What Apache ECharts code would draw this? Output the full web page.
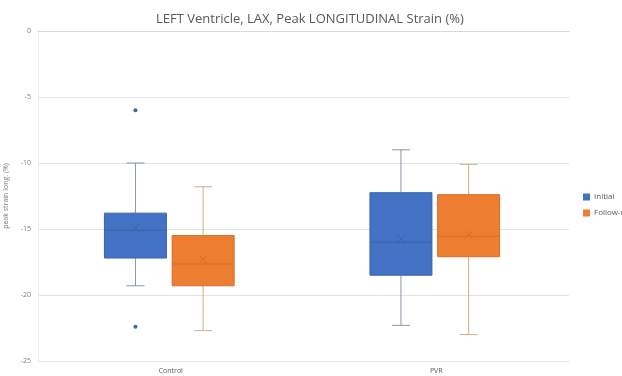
<!DOCTYPE html>
<html><head><meta charset="utf-8">
<script src="https://cdn.jsdelivr.net/npm/echarts@6/dist/echarts.min.js"></script>
<style>html,body{margin:0;padding:0;background:#fff}#c{width:622px;height:376px}</style>
</head><body><div id="c"></div>
<script>
const categories = ['Control', 'PVR'];
const seriesNames = ['Initial', 'Follow-up'];
// per category: [min, Q1, median, Q3, max]
const initialBox = [[-19.3, -17.2, -15.1, -13.8, -10.0], [-22.3, -18.5, -16.0, -12.25, -9.0]];
const initialMean = [-14.9, -15.75];
const initialOutliers = [[0, -6.0], [0, -22.4]];
const followBox = [[-22.7, -19.3, -17.65, -15.5, -11.8], [-23.0, -17.1, -15.55, -12.4, -10.1]];
const followMean = [-17.3, -15.45];
const followOutliers = [];
const yMin = -25, yMax = 0, yStep = 5;

function boxData(box, mean) {
  return box.map((b, i) => [i].concat(b).concat([mean[i]]));
}

function boxRender(offsetFrac, fill, lineCol, whiskerCol) {
  return function (params, api) {
    const ci = api.value(0);
    const band = api.size([1, 0])[0];
    const w = band * 0.2335;
    const cx = api.coord([ci, 0])[0] + band * offsetFrac;
    const y = k => api.coord([ci, api.value(k)])[1];
    const yLo = y(1), yQ1 = y(2), yMed = y(3), yQ3 = y(4), yHi = y(5), yMean = y(6);
    const cap = 9, m = 4;
    const ls = { stroke: whiskerCol, lineWidth: 1 };
    return {
      type: 'group',
      children: [
        { type: 'line', shape: { x1: cx, y1: yHi, x2: cx, y2: yQ3 }, style: ls },
        { type: 'line', shape: { x1: cx, y1: yQ1, x2: cx, y2: yLo }, style: ls },
        { type: 'line', shape: { x1: cx - cap, y1: yHi, x2: cx + cap, y2: yHi }, style: ls },
        { type: 'line', shape: { x1: cx - cap, y1: yLo, x2: cx + cap, y2: yLo }, style: ls },
        { type: 'rect', shape: { x: cx - w / 2, y: yQ3, width: w, height: yQ1 - yQ3 }, style: { fill: fill, stroke: lineCol, lineWidth: 1 } },
        { type: 'line', shape: { x1: cx - w / 2, y1: yMed, x2: cx + w / 2, y2: yMed }, style: { stroke: lineCol, lineWidth: 1 } },
        { type: 'line', shape: { x1: cx - m, y1: yMean - m, x2: cx + m, y2: yMean + m }, style: { stroke: lineCol, lineWidth: 1 } },
        { type: 'line', shape: { x1: cx - m, y1: yMean + m, x2: cx + m, y2: yMean - m }, style: { stroke: lineCol, lineWidth: 1 } }
      ]
    };
  };
}

function outlierRender(offsetFrac, col) {
  return function (params, api) {
    const ci = api.value(0);
    const band = api.size([1, 0])[0];
    const p = api.coord([ci, api.value(1)]);
    return { type: 'circle', shape: { cx: p[0] + band * offsetFrac, cy: p[1], r: 2 }, style: { fill: col } };
  };
}

const blue = '#4472C4', orange = '#ED7D31';
const chart = echarts.init(document.getElementById('c'));
chart.setOption({
  animation: false,
  title: {
    text: 'LEFT Ventricle, LAX, Peak LONGITUDINAL Strain (%)',
    left: 151, top: 8,
    textStyle: { fontFamily: 'Open Sans', fontSize: 13, fontWeight: 'normal', color: '#595959' }
  },
  legend: {
    orient: 'vertical', left: 578, top: 188, itemGap: 8, itemWidth: 7, itemHeight: 7,
    icon: 'rect',
    data: [{ name: seriesNames[0], itemStyle: { color: blue } }, { name: seriesNames[1], itemStyle: { color: orange } }],
    textStyle: { fontFamily: 'Open Sans', fontSize: 8, color: '#595959', padding: [0, 0, 0, -1] }
  },
  grid: { left: 38, right: 53, top: 31, bottom: 15, outerBoundsMode: 'none', containLabel: false },
  xAxis: {
    type: 'category', data: categories,
    axisLine: { lineStyle: { color: '#d9d9d9' } },
    axisTick: { show: false },
    axisLabel: { fontFamily: 'Open Sans', fontSize: 7, color: '#595959', margin: 6 }
  },
  yAxis: {
    type: 'value', min: yMin, max: yMax, interval: yStep,
    name: 'peak strain long. (%)', nameLocation: 'middle', nameGap: 22, nameRotate: 90,
    nameTextStyle: { fontFamily: 'Open Sans', fontSize: 7, color: '#7f7f7f' },
    axisLine: { show: true, lineStyle: { color: '#ececec' } },
    axisTick: { show: false },
    axisLabel: { fontFamily: 'Open Sans', fontSize: 7, color: '#7f7f7f', margin: 7 },
    splitLine: { lineStyle: { color: '#e3e3e3' } }
  },
  series: [
    { name: seriesNames[0], type: 'custom', itemStyle: { color: blue }, renderItem: boxRender(-0.133, blue, '#3a63ad', '#8a96a8'), encode: { x: 0, y: [1, 2, 3, 4, 5, 6] }, data: boxData(initialBox, initialMean), z: 3 },
    { name: seriesNames[1], type: 'custom', itemStyle: { color: orange }, renderItem: boxRender(0.122, orange, '#d46e28', '#cfae8a'), encode: { x: 0, y: [1, 2, 3, 4, 5, 6] }, data: boxData(followBox, followMean), z: 3 },
    { name: seriesNames[0], type: 'custom', renderItem: outlierRender(-0.133, '#44649c'), encode: { x: 0, y: 1 }, data: initialOutliers, z: 4 },
    { name: seriesNames[1], type: 'custom', renderItem: outlierRender(0.122, '#d46e28'), encode: { x: 0, y: 1 }, data: followOutliers, z: 4 }
  ]
});
</script>
</body></html>
